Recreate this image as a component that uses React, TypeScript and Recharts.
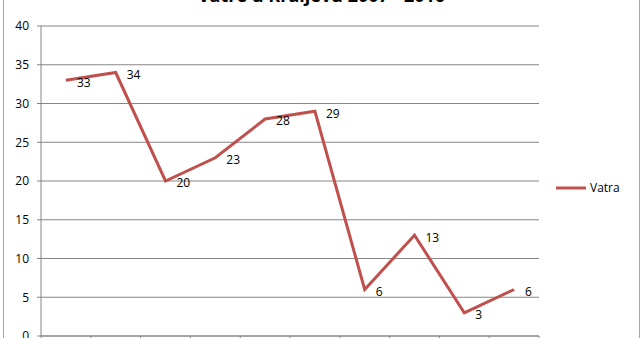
import React from 'react';
import { LineChart, Line, XAxis, YAxis, CartesianGrid, LabelList } from 'recharts';

const years = ['2007', '2008', '2009', '2010', '2011', '2012', '2013', '2014', '2015', '2016'];
const vatra = [33, 34, 20, 23, 28, 29, 6, 13, 3, 6];
const yTicks = [0, 5, 10, 15, 20, 25, 30, 35, 40];
const bandTicks = [0, 1, 2, 3, 4, 5, 6, 7, 8, 9, 10];

// pos = middle of each category slot, so the ticks fall between categories
const chartData = years.map((year, i) => ({ year, pos: i + 0.5, Vatra: vatra[i] }));

const FONT = '"Open Sans", "Liberation Sans", sans-serif';
const LINE_COLOR = '#C0504D';
const AXIS_COLOR = '#868686';

export default function App() {
  return (
    <div style={{ position: 'absolute', left: 0, top: 0, width: 643, height: 338, overflow: 'hidden', background: '#fff' }}>
      {/* chart area border, top and bottom are cut off */}
      <div
        style={{
          position: 'absolute', left: 3, top: -20, width: 637, height: 400,
          border: '1px solid #a6a6a6', boxSizing: 'border-box',
        }}
      />
      <div
        style={{
          position: 'absolute', left: 0, top: -17, width: 643, textAlign: 'center',
          fontFamily: FONT, fontWeight: 'bold', fontSize: 18, color: '#000',
        }}
      >
        Vatre u Kraljevu 2007 - 2016
      </div>
      <div style={{ position: 'absolute', left: 0, top: 0 }}>
        <LineChart
          width={643}
          height={380}
          data={chartData}
          margin={{ top: 26, right: 104, left: 0, bottom: 39 }}
        >
          <CartesianGrid vertical={false} stroke={AXIS_COLOR} />
          {/* year labels sit below the visible crop, so only tick marks are drawn */}
          <XAxis
            dataKey="pos"
            type="number"
            domain={[0, 10]}
            allowDataOverflow
            ticks={bandTicks}
            tickFormatter={() => ''}
            stroke={AXIS_COLOR}
            tickSize={5}
            height={5}
          />
          <YAxis
            domain={[0, 40]}
            ticks={yTicks}
            width={41}
            stroke={AXIS_COLOR}
            tickSize={4}
            tickMargin={8}
            tick={{ fill: '#000', fontSize: 12, fontFamily: FONT }}
          />
          <Line
            type="linear"
            dataKey="Vatra"
            stroke={LINE_COLOR}
            strokeWidth={3}
            dot={false}
            isAnimationActive={false}
          >
            <LabelList
              dataKey="Vatra"
              position="right"
              offset={11}
              fill="#000"
              fontSize={12}
              fontFamily={FONT}
              dy={2}
            />
          </Line>
        </LineChart>
      </div>
      {/* legend */}
      <div
        style={{
          position: 'absolute', left: 556, top: 179, display: 'flex', alignItems: 'center',
          fontFamily: FONT, fontSize: 12, color: '#000',
        }}
      >
        <svg width={30} height={6} style={{ marginRight: 4 }}>
          <line x1={0} y1={3} x2={30} y2={3} stroke={LINE_COLOR} strokeWidth={3} />
        </svg>
        <span>Vatra</span>
      </div>
    </div>
  );
}
